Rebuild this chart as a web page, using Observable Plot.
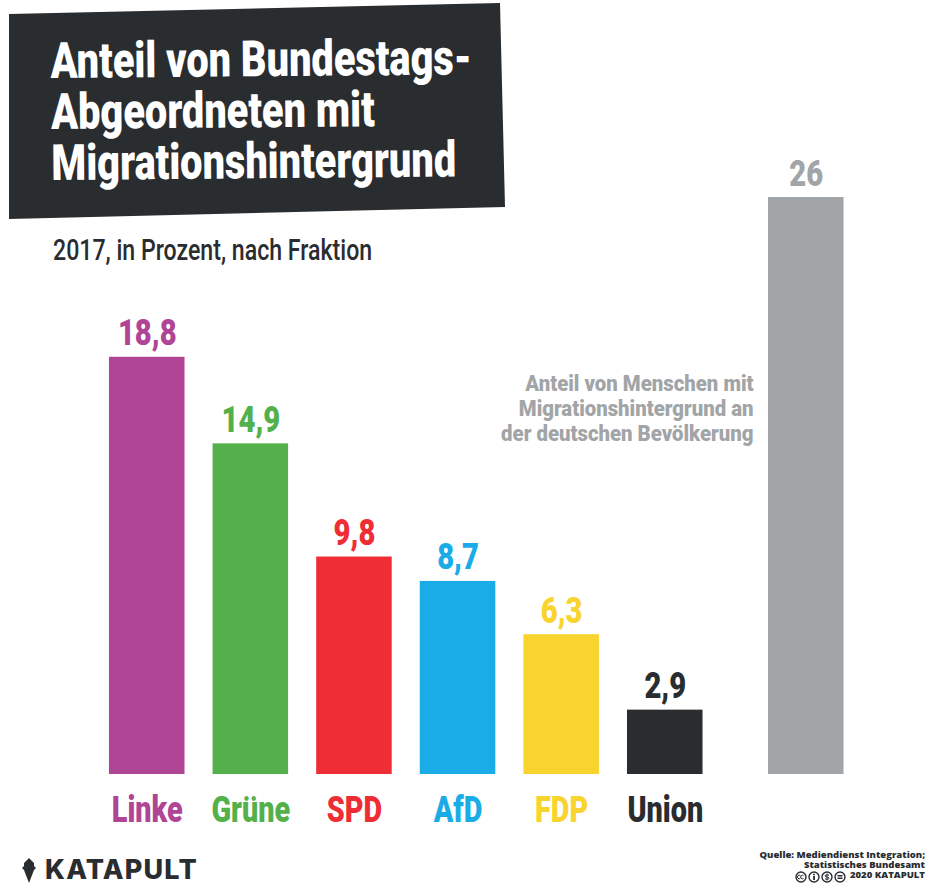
<!DOCTYPE html>
<html lang="de">
<head>
<meta charset="utf-8">
<script src="https://cdn.jsdelivr.net/npm/d3@7"></script>
<script src="https://cdn.jsdelivr.net/npm/@observablehq/plot@0.6"></script>
<style>
  html,body{margin:0;padding:0;background:#fff;}
  #page{position:relative;width:927px;height:886px;overflow:hidden;font-family:"Roboto",sans-serif;}
  #page svg.plot{position:absolute;left:0;top:0;display:block;}
  #block{position:absolute;left:0;top:0;width:927px;height:230px;background:#2a2d30;
    clip-path:polygon(9px 14px,500px 3px,505px 207px,9px 219px);}
  #title{position:absolute;left:51px;top:36px;margin:0;font-size:50px;line-height:51px;font-weight:900;color:#fff;
    white-space:pre;transform-origin:0 50%;}
  #subtitle{position:absolute;left:53px;top:232px;margin:0;font-size:30px;line-height:36px;font-weight:500;color:#2a2d30;
    white-space:pre;transform-origin:0 50%;}
  #logo{position:absolute;left:22px;top:857px;display:flex;align-items:center;gap:9px;color:#2a2d30;
    font-family:Inter,"Noto Sans",sans-serif;font-weight:800;font-size:27px;line-height:26px;letter-spacing:1.2px;}
  #source{position:absolute;right:2px;top:850px;text-align:right;color:#2a2d30;
    font-family:"Open Sans","Noto Sans",sans-serif;font-weight:800;font-size:9.5px;line-height:10.2px;white-space:pre;}
  #license{position:absolute;left:795px;top:871px;}
</style>
</head>
<body>
<div id="page">
  <div id="chart"></div>
  <div id="block"></div>
  <h1 id="title"></h1>
  <p id="subtitle"></p>
  <div id="logo"><svg width="14" height="25" viewBox="0 0 14 25"><path fill="#2a2d30" d="M7 0 L12 5 L12 8 L14 10 L12 12 L7 25 L2 12 L0 10 L2 8 L2 5 Z"/></svg><span id="brand"></span></div>
  <div id="source"></div>
  <svg id="license" width="53" height="12" viewBox="0 0 53 12" fill="none" stroke="#2a2d30" stroke-width="1.4">
    <circle cx="6" cy="6" r="5"/><path d="M5.4 4.6a1.8 1.8 0 1 0 0 2.8M8.6 4.6a1.8 1.8 0 1 0 0 2.8" stroke-width="1"/>
    <circle cx="19" cy="6" r="5"/><path d="M19 2.8v1.4M19 5v4" stroke-width="1.8"/>
    <circle cx="32" cy="6" r="5"/><path d="M34 4.4c-1-.9-4-.8-4 .6s4 .7 4 2.2-3 1.4-4 .5M32 2.5v7" stroke-width="1"/>
    <circle cx="45" cy="6" r="5"/><path d="M42.5 4.8h5M42.5 7.2h5" stroke-width="1.4"/>
  </svg>
</div>
<script>
const titleText = "Anteil von Bundestags-\nAbgeordneten mit\nMigrationshintergrund";
const subtitleText = "2017, in Prozent, nach Fraktion";
const parties = ["Linke", "Grüne", "SPD", "AfD", "FDP", "Union"];
const shares = [18.8, 14.9, 9.8, 8.7, 6.3, 2.9];
const partyColors = ["#b04495", "#53b04a", "#ee2d35", "#19ace6", "#f9d32e", "#2a2d30"];
const populationCategory = "Bevölkerung";
const populationShare = 26;
const populationColor = "#a2a5a7";
const populationNote = "Anteil von Menschen mit\nMigrationshintergrund an\nder deutschen Bevölkerung";
const sourceText = "Quelle: Mediendienst Integration;\nStatistisches Bundesamt\n2020 KATAPULT";
const brandText = "KATAPULT";

const titleEl = document.getElementById("title");
titleEl.textContent = titleText;
titleEl.style.transform = `rotate(-0.5deg) scaleX(${421 / titleEl.offsetWidth})`;
const subtitleEl = document.getElementById("subtitle");
subtitleEl.textContent = subtitleText;
subtitleEl.style.transform = `scaleX(${319 / subtitleEl.offsetWidth})`;
document.getElementById("brand").textContent = brandText;
document.getElementById("source").textContent = sourceText;

const rows = parties.map((party, i) => ({party, share: shares[i], color: partyColors[i]}));
const population = [{party: populationCategory, share: populationShare, color: populationColor}];
const fmt = v => String(v).replace(".", ",");
const gapShift = 37.4;

const chart = Plot.plot({
  width: 927,
  height: 886,
  marginTop: 197,
  marginBottom: 112,
  marginLeft: 80.9,
  marginRight: 92.8,
  style: {background: "transparent", fontFamily: "Roboto,sans-serif"},
  x: {domain: [...parties, populationCategory], padding: 0.271, round: false, axis: null},
  y: {domain: [0, populationShare], axis: null},
  marks: [
    Plot.barY(rows, {x: "party", y: "share", fill: d => d.color}),
    Plot.barY(population, {x: "party", y: "share", fill: d => d.color, dx: gapShift}),
    Plot.text(rows, {x: "party", y: "share", text: d => fmt(d.share), fill: d => d.color,
      lineAnchor: "bottom", dy: -12, fontSize: 37, fontWeight: 900}),
    Plot.text(population, {x: "party", y: "share", text: d => fmt(d.share), fill: d => d.color,
      lineAnchor: "bottom", dx: gapShift, dy: -12, fontSize: 37, fontWeight: 900}),
    Plot.text(rows, {x: "party", y: () => 0, text: "party", fill: d => d.color,
      lineAnchor: "top", dy: 22, fontSize: 36, fontWeight: 900}),
    Plot.text(population, {x: "party", y: () => 17.6, text: () => populationNote, fill: d => d.color,
      textAnchor: "end", lineAnchor: "top", lineHeight: 25 / 22, dx: -15.35, dy: -11, fontSize: 22, fontWeight: 900})
  ]
});
document.getElementById("chart").append(chart);

// No condensed face is installed: narrow the glyphs of each label instead.
const narrowing = {37: 0.79, 36: 0.80, 22: 0.925};
function narrow(el, ratio) {
  el.setAttribute("textLength", el.getComputedTextLength() * ratio);
  el.setAttribute("lengthAdjust", "spacingAndGlyphs");
}
chart.querySelectorAll("text").forEach(t => {
  const ratio = narrowing[Math.round(parseFloat(getComputedStyle(t).fontSize))];
  if (!ratio) return;
  const spans = t.querySelectorAll("tspan");
  if (spans.length) spans.forEach(s => narrow(s, ratio));
  else narrow(t, ratio);
});
</script>
</body>
</html>
